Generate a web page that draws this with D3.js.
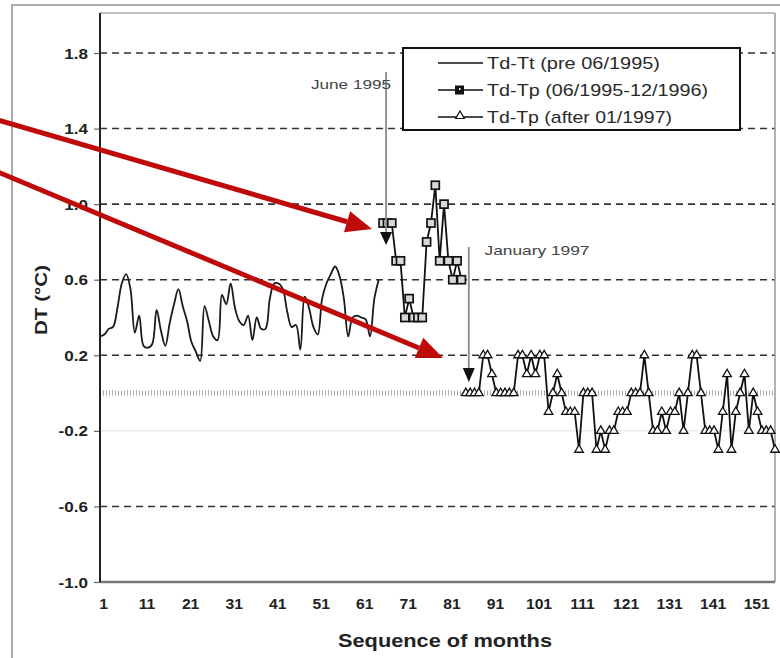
<!DOCTYPE html>
<html><head><meta charset="utf-8">
<script src="https://cdn.jsdelivr.net/npm/d3@7/dist/d3.min.js"></script>
<style>html,body{margin:0;padding:0;background:#fff;}svg{display:block;font-family:"Liberation Sans",Arial,sans-serif;}</style>
</head><body>
<svg id="c" width="780" height="658"></svg>
<script>
// ---- data ----
const yTicks = [1.8, 1.4, 1.0, 0.6, 0.2, -0.2, -0.6, -1.0];
const yTickLabels = ["1.8", "1.4", "1.0", "0.6", "0.2", "-0.2", "-0.6", "-1.0"];
const xTicks = [1, 11, 21, 31, 41, 51, 61, 71, 81, 91, 101, 111, 121, 131, 141, 151];
const legendLabels = ["Td-Tt (pre 06/1995)", "Td-Tp (06/1995-12/1996)", "Td-Tp (after 01/1997)"];
const s1Start = 1;   // Td-Tt, months 1..65
const s1Values = [0.30,0.31,0.34,0.35,0.45,0.58,0.63,0.55,0.32,0.41,
                  0.25,0.24,0.26,0.44,0.33,0.25,0.37,0.47,0.55,0.46,
                  0.38,0.27,0.22,0.17,0.46,0.38,0.30,0.28,0.52,0.47,
                  0.58,0.45,0.38,0.36,0.41,0.28,0.40,0.34,0.34,0.50,
                  0.58,0.58,0.55,0.43,0.35,0.36,0.23,0.51,0.45,0.35,
                  0.31,0.50,0.58,0.63,0.67,0.62,0.50,0.30,0.40,0.41,
                  0.40,0.39,0.30,0.50,0.60];
const s2Start = 66;  // Td-Tp 06/1995-12/1996
const s2Values = [0.9,0.9,0.9,0.7,0.7,0.4,0.5,0.4,0.4,0.4,0.8,0.9,1.1,0.7,1.0,0.7,0.6,0.7,0.6];
const s3Start = 85;  // Td-Tp after 01/1997
const s3Values = [0,0,0,0,0.2,0.2,0.1,0,0,0,0,0,0.2,0.2,0.1,0.2,0.1,0.2,0.2,-0.1,
                  0,0.1,0,-0.1,-0.1,-0.1,-0.3,0,0,0,-0.3,-0.2,-0.3,-0.2,-0.2,-0.1,-0.1,-0.1,0,0,
                  0,0.2,0,-0.2,-0.2,-0.1,-0.2,-0.1,-0.1,0,-0.2,0,0.2,0.2,0,-0.2,-0.2,-0.2,-0.3,-0.1,
                  0.1,-0.3,-0.1,0,0.1,-0.2,0,-0.1,-0.2,-0.2,-0.2,-0.3];
const annotations = [{label:"June 1995", month:66}, {label:"January 1997", month:85}];

// ---- layout ----
const svg = d3.select("#c");
const L = 100, R = 775, T = 13, B = 582;
const x = d3.scaleLinear().domain([1, 156]).range([L, R]);
const y = d3.scaleLinear().domain([-1.0, 1.8]).range([B, 53]);
const toPts = (start, vals) => vals.map((v, i) => ({m: start + i, v}));
const s1 = toPts(s1Start, s1Values), s2 = toPts(s2Start, s2Values), s3 = toPts(s3Start, s3Values);

// outer frame
svg.append("rect").attr("x", 12).attr("y", 5).attr("width", 800).attr("height", 700)
  .attr("fill", "none").attr("stroke", "#aaa").attr("stroke-width", 2);

// grid
const grid = svg.append("g");
yTicks.forEach(t => {
  if (t === -1.0) return;
  const line = grid.append("line").attr("x1", L).attr("x2", R).attr("y1", y(t)).attr("y2", y(t));
  if (t === -0.2) line.attr("stroke", "#e2e2e2").attr("stroke-width", 1);
  else line.attr("stroke", "#333").attr("stroke-width", 1.6).attr("stroke-dasharray", "7,5");
});
// zero hatch line
grid.append("line").attr("x1", L).attr("x2", R).attr("y1", y(0)).attr("y2", y(0))
  .attr("stroke", "#a8a8a8").attr("stroke-width", 5).attr("stroke-dasharray", "1,2");

// plot box
svg.append("line").attr("x1", L).attr("x2", R).attr("y1", T).attr("y2", T).attr("stroke", "#aaa").attr("stroke-width", 1.5);
svg.append("line").attr("x1", R).attr("x2", R).attr("y1", T).attr("y2", B).attr("stroke", "#999").attr("stroke-width", 1.5);
svg.append("line").attr("x1", L).attr("x2", R).attr("y1", B).attr("y2", B).attr("stroke", "#777").attr("stroke-width", 2.5);

// y axis
const yAxis = d3.axisLeft(y).tickValues(yTicks).tickSize(6).tickFormat((d, i) => yTickLabels[i]);
const ga = svg.append("g").attr("transform", `translate(${L},0)`).call(yAxis);
ga.select(".domain").remove();
ga.append("line").attr("x1", 0).attr("x2", 0).attr("y1", T).attr("y2", B).attr("stroke", "#222").attr("stroke-width", 2);
ga.selectAll(".tick line").attr("stroke", "#666").attr("stroke-width", 1.2);
ga.selectAll(".tick text").attr("fill", "#222").attr("font-size", 14).attr("font-weight", "bold")
  .attr("font-family", "Liberation Sans, Arial, sans-serif")
  .attr("x", null).attr("dy", null).attr("text-anchor", "end")
  .attr("transform", d => `translate(-12,5) scale(1.22,1)`);

// x axis labels
const xAxis = d3.axisBottom(x).tickValues(xTicks).tickSize(0).tickFormat(d3.format("d"));
const gx = svg.append("g").attr("transform", `translate(0,${B})`).call(xAxis);
gx.select(".domain").remove();
gx.selectAll(".tick text").attr("fill", "#222").attr("font-size", 14).attr("font-weight", "bold")
  .attr("font-family", "Liberation Sans, Arial, sans-serif")
  .attr("y", null).attr("dy", null).attr("transform", "translate(3,27) scale(1.12,1)");

// axis titles
svg.append("text").attr("x", 445).attr("y", 647).attr("text-anchor", "middle")
  .attr("font-size", 19).attr("font-weight", "bold").attr("fill", "#222")
  .attr("textLength", 214).attr("lengthAdjust", "spacingAndGlyphs").text("Sequence of months");
svg.append("text").attr("transform", "translate(47,300) rotate(-90)").attr("text-anchor", "middle")
  .attr("font-size", 17).attr("font-weight", "bold").attr("fill", "#222")
  .attr("textLength", 70).attr("lengthAdjust", "spacingAndGlyphs").text("DT (°C)");

// series 1 smooth line
const line = d3.line().x(d => x(d.m)).y(d => y(d.v));
svg.append("path").datum(s1).attr("d", line.curve(d3.curveCatmullRom.alpha(0.5)))
  .attr("fill", "none").attr("stroke", "#1a1a1a").attr("stroke-width", 1.8);

// series 2
const line2 = d3.line().x(d => x(d.m)).y(d => y(d.v));
svg.append("path").datum(s2).attr("d", line2).attr("fill", "none").attr("stroke", "#111").attr("stroke-width", 1.8);
svg.append("g").selectAll("rect").data(s2).join("rect")
  .attr("x", d => x(d.m) - 4).attr("y", d => y(d.v) - 4).attr("width", 8).attr("height", 8)
  .attr("fill", "#d8d8d8").attr("stroke", "#111").attr("stroke-width", 1.7);

// series 3
svg.append("path").datum(s3).attr("d", line2).attr("fill", "none").attr("stroke", "#111").attr("stroke-width", 1.8);
const tri = d3.symbol().type(d3.symbolTriangle).size(32);
svg.append("g").selectAll("path").data(s3).join("path")
  .attr("d", tri).attr("transform", d => `translate(${x(d.m)},${y(d.v)})`)
  .attr("fill", "#fff").attr("stroke", "#111").attr("stroke-width", 1.3);

// annotations (vertical marker lines with arrowheads)
const ann = [
  {a: annotations[0], top: 72, base: 232, tip: 245, tx: 351, ty: 89, tl: 80},
  {a: annotations[1], top: 247, base: 368, tip: 382, tx: 537, ty: 255, tl: 105}
];
ann.forEach(o => {
  const ax = x(o.a.month) + 3;
  svg.append("line").attr("x1", ax).attr("x2", ax).attr("y1", o.top).attr("y2", o.base)
    .attr("stroke", "#8a8a8a").attr("stroke-width", 1.8);
  svg.append("path").attr("d", `M${ax-6},${o.base}L${ax+6},${o.base}L${ax},${o.tip}Z`).attr("fill", "#111");
  svg.append("text").attr("x", o.tx).attr("y", o.ty).attr("text-anchor", "middle")
    .attr("font-size", 13).attr("fill", "#444")
    .attr("textLength", o.tl).attr("lengthAdjust", "spacingAndGlyphs").text(o.a.label);
});

// legend
const lg = svg.append("g");
lg.append("rect").attr("x", 403).attr("y", 48).attr("width", 337).attr("height", 82)
  .attr("fill", "#fff").attr("stroke", "#111").attr("stroke-width", 2);
const rows = [69, 96, 123], widths = [173, 221, 185];
legendLabels.forEach((lab, i) => {
  const cy = rows[i] - 6;
  lg.append("line").attr("x1", 438).attr("x2", 483).attr("y1", cy).attr("y2", cy)
    .attr("stroke", "#111").attr("stroke-width", 1.6);
  if (i === 1) {
    lg.append("rect").attr("x", 455).attr("y", cy - 4.5).attr("width", 9).attr("height", 9).attr("fill", "#111");
    lg.append("rect").attr("x", 459).attr("y", cy - 2).attr("width", 1.5).attr("height", 2).attr("fill", "#fff");
  }
  if (i === 2) {
    lg.append("path").attr("d", tri).attr("transform", `translate(460,${cy - 1})`)
      .attr("fill", "#fff").attr("stroke", "#111").attr("stroke-width", 1.2);
  }
  lg.append("text").attr("x", 487).attr("y", rows[i]).attr("font-size", 17).attr("fill", "#2a2a2a")
    .attr("textLength", widths[i]).attr("lengthAdjust", "spacingAndGlyphs").text(lab);
});

// red overlay arrows
const red = "#bf0a0a";
const arrows = [{x1: -2, y1: 120, x2: 372, y2: 229}, {x1: -2, y1: 172, x2: 443, y2: 358}];
arrows.forEach(a => {
  const ang = Math.atan2(a.y2 - a.y1, a.x2 - a.x1), len = 26, w = 11;
  const bx = a.x2 - len * Math.cos(ang), by = a.y2 - len * Math.sin(ang);
  svg.append("line").attr("x1", a.x1).attr("y1", a.y1).attr("x2", bx).attr("y2", by)
    .attr("stroke", red).attr("stroke-width", 5);
  const px = -Math.sin(ang) * w, py = Math.cos(ang) * w;
  svg.append("path").attr("d", `M${a.x2},${a.y2}L${bx+px},${by+py}L${bx-px},${by-py}Z`).attr("fill", red);
});
</script>
</body></html>
